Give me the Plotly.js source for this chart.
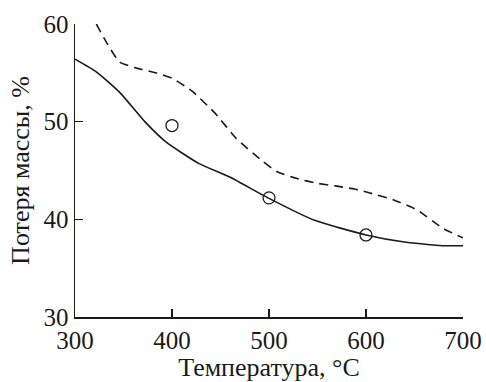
<!DOCTYPE html>
<html>
<head>
<meta charset="utf-8">
<script src="https://cdn.plot.ly/plotly-3.0.1.min.js"></script>
<style>html,body{margin:0;padding:0;background:#fff;}#chart{width:486px;height:382px;}</style>
</head>
<body>
<div id="chart"></div>
<script>
// Solid curve
const solidX = [300, 322, 347, 372, 394, 428, 460, 499, 547, 600, 638, 679, 700];
const solidY = [56.4, 55.1, 52.9, 50.0, 47.9, 45.7, 44.3, 42.2, 39.9, 38.4, 37.7, 37.3, 37.3];
// Dashed curve
const dashX = [322, 332, 346, 363, 387, 401, 421, 445, 466, 494, 508, 528, 549, 570, 588, 604, 628, 652, 679, 700];
const dashY = [60.0, 58.2, 56.1, 55.5, 54.9, 54.4, 53.1, 50.8, 48.3, 45.9, 44.9, 44.2, 43.7, 43.4, 43.1, 42.7, 42.0, 41.0, 39.1, 38.1];
// Experimental points
const ptsX = [400, 500, 600];
const ptsY = [49.6, 42.2, 38.4];

const xTicks = [300, 400, 500, 600, 700];
const yTicks = [30, 40, 50, 60];

const ink = '#1a1a1a';
const fam = 'Liberation Serif';

const traces = [
  {x: solidX, y: solidY, mode: 'lines', line: {color: ink, width: 1.6, shape: 'spline', smoothing: 0.5}, hoverinfo: 'none'},
  {x: dashX, y: dashY, mode: 'lines', line: {color: ink, width: 1.6, dash: '9px,6px', shape: 'spline', smoothing: 0.5}, hoverinfo: 'none'},
  {x: ptsX, y: ptsY, mode: 'markers', marker: {symbol: 'circle-open', size: 12, color: ink, line: {width: 1.3, color: ink}}, hoverinfo: 'none'}
];

const layout = {
  width: 486, height: 382,
  margin: {l: 75, r: 23, t: 24, b: 65},
  paper_bgcolor: '#fff', plot_bgcolor: '#fff',
  showlegend: false,
  xaxis: {
    range: [300, 700], tickvals: xTicks, ticktext: xTicks.map(String),
    ticks: 'inside', ticklen: 8, tickwidth: 1.2, tickcolor: ink,
    showline: true, linecolor: ink, linewidth: 1.5, showgrid: false, zeroline: false,
    tickfont: {family: fam, size: 25, color: ink},
    title: {text: 'Температура, °C', font: {family: fam, size: 26, color: ink}, standoff: 4},
    fixedrange: true
  },
  yaxis: {
    range: [30, 60], tickvals: yTicks, ticktext: yTicks.map(String),
    ticks: 'inside', ticklen: 8, tickwidth: 1.2, tickcolor: ink,
    showline: true, linecolor: ink, linewidth: 1.5, showgrid: false, zeroline: false,
    tickfont: {family: fam, size: 25, color: ink},
    title: {text: 'Потеря массы, %', font: {family: fam, size: 26, color: ink}, standoff: 6},
    fixedrange: true
  }
};

Plotly.newPlot('chart', traces, layout, {displayModeBar: false, staticPlot: true});
</script>
</body>
</html>
